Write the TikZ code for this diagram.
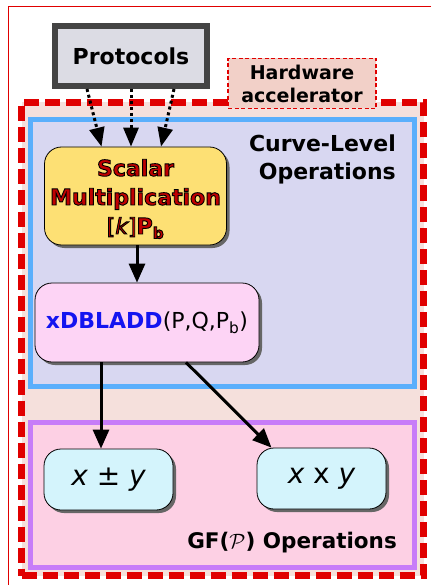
\documentclass[tikz,border=0pt]{standalone}
\usepackage{fontspec}
\setmainfont{DejaVu Sans}
\usetikzlibrary{shadows,arrows.meta}

\definecolor{accred}{HTML}{E00000}
\definecolor{hwfill}{HTML}{F2D0C8}
\definecolor{accfill}{HTML}{F5E0DC}
\definecolor{protofill}{HTML}{DCDCE4}
\definecolor{protoedge}{HTML}{444444}
\definecolor{curveedge}{HTML}{5AAFFC}
\definecolor{curvefill}{HTML}{D8D7F1}
\definecolor{gfedge}{HTML}{C77CF8}
\definecolor{gffill}{HTML}{FDD0E4}
\definecolor{scalfill}{HTML}{FDE074}
\definecolor{scaltext}{HTML}{C00000}
\definecolor{ladfill}{HTML}{FDD4F5}
\definecolor{ladtext}{HTML}{1414F0}
\definecolor{opfill}{HTML}{D4F4FC}

% red text with a thin black outline (fill+stroke text render mode)
\newcommand{\redout}[1]{{\color{scaltext}%
  \special{pdf:literal direct 0 0 0 RG 0.9 w 2 Tr}#1%
  \special{pdf:literal direct 0 Tr}}}

\begin{document}
\begin{tikzpicture}[x=1pt,y=-1pt,
  every node/.style={inner sep=0pt},
  frame/.style={line width=5pt, minimum width=384pt},
  opbox/.style={draw=black, line width=0.8pt, rounded corners=17pt,
    drop shadow={shadow xshift=3pt, shadow yshift=-3pt, fill=black!60, opacity=1}},
  solidarrow/.style={line width=3pt, -{Triangle[length=19pt,width=16pt]}},
  dotarrow/.style={line width=3pt, dash pattern=on 3pt off 3pt,
    -{Triangle[length=19pt,width=15pt]}},
  bigtext/.style={font=\bfseries\fontsize{22}{28}\selectfont},
]
\useasboundingbox (0,0) rectangle (431,585);

% thin outer border
\draw[accred, line width=1pt] (431,6.5) -- (8.5,6.5) -- (8.5,585);

% hardware accelerator region
\node[draw=accred, fill=accfill, line width=7pt, dash pattern=on 15pt off 6pt,
  minimum width=402pt, minimum height=473pt] (acc) at (222.5,339) {};

% curve-level and field-level regions
\node[frame, draw=curveedge, fill=curvefill, minimum height=267pt] (curve) at (222.5,253) {};
\node[frame, draw=gfedge, fill=gffill, minimum height=145pt] (gf) at (222.5,495) {};

\node[bigtext, align=right, anchor=east] (curvelbl) at (396,159)
  {Curve-Level\\Operations};
\node[font=\bfseries\fontsize{21.5}{24}\selectfont, anchor=base east] (gflbl) at (397,548)
  {GF($\mathcal{P}$) Operations};

% hardware accelerator tag
\node[draw=accred, fill=hwfill, line width=1.5pt, dash pattern=on 4pt off 2.5pt,
  minimum width=148pt, minimum height=50pt, align=center,
  font=\bfseries\fontsize{19}{23}\selectfont] (hw) at (302,83.5)
  {Hardware\\accelerator};

% protocols
\node[draw=protoedge, fill=protofill, line width=6pt, minimum width=152pt,
  minimum height=60pt, bigtext] (proto) at (131,56) {Protocols};

% operation boxes
\node[opbox, fill=scalfill, minimum width=182pt, minimum height=98pt] (scal) at (135.5,196) {};
\node[align=center, font=\bfseries\fontsize{22}{29}\selectfont] (scaltxt) at (135.5,199)
  {\redout{Scalar}\\\redout{Multiplication}\\\redout{{\mdseries[\itshape k\upshape]}P$_{\mathbf{b}}$}};

\node[opbox, fill=ladfill, minimum width=224pt, minimum height=79pt,
  font=\fontsize{22}{26}\selectfont] (lad) at (147,322.5)
  {\textcolor{ladtext}{\bfseries xDBLADD}(P,Q,P$_{\mathrm{b}}$)};

\node[opbox, fill=opfill, minimum width=129pt, minimum height=61pt,
  font=\fontsize{28}{32}\selectfont] (add) at (108.5,479.5)
  {\itshape x \upshape ± \itshape y};
\node[opbox, fill=opfill, minimum width=129pt, minimum height=61pt,
  font=\fontsize{28}{32}\selectfont] (mul) at (321.5,478.5)
  {\itshape x \upshape x \itshape y};

% connectors
\draw[dotarrow] ([xshift=-44pt]proto.south) -- ([xshift=-34pt]scal.north);
\draw[dotarrow] (proto.south) -- ([xshift=-4.5pt]scal.north);
\draw[dotarrow] ([xshift=43pt]proto.south) -- ([xshift=25.5pt]scal.north);
\draw[solidarrow] ([xshift=1.5pt]scal.south) -- ([xshift=-10pt]lad.north);
\draw[solidarrow] ([xshift=-46pt]lad.south) -- ([xshift=-7.5pt]add.north);
\draw[solidarrow] ([xshift=39pt]lad.south) -- ([xshift=-50pt]mul.north);
\end{tikzpicture}
\end{document}
